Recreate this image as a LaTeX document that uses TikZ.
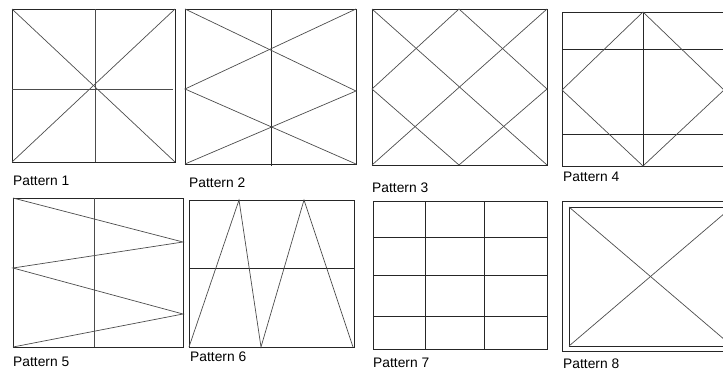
\documentclass[tikz,border=0pt]{standalone}
\usepackage{fontspec}
\setmainfont{Liberation Sans}
\tikzstyle{frame} = [draw=black!85, line width=0.9pt]
\tikzstyle{guide} = [draw=black!70, line width=0.7pt]
\tikzstyle{caption} = [anchor=west, inner sep=0pt,
font=\fontsize{13.8}{16}\selectfont]

\begin{document}
\begin{tikzpicture}[x=1pt, y=-1pt]
\useasboundingbox (0,0) rectangle (723,373);
\clip (0,0) rectangle (723,373);

% Pattern 1
\draw[frame] (12,9) rectangle (175,162);
\draw[guide] (95,9) -- (95,162);
\draw[guide] (12,89) -- (173,89);
\draw[guide] (12,9) -- (175,162);
\draw[guide] (175,9) -- (12,162);

% Pattern 2
\draw[frame] (185,9) rectangle (356,164);
\draw[frame] (271,9) -- (271,166);
\draw[guide] (185,9) -- (356,91) -- (185,164);
\draw[guide] (356,9) -- (185,89) -- (356,164);

% Pattern 3
\draw[frame] (372,9) rectangle (547,165);
\draw[guide] (372,9) -- (547,165);
\draw[guide] (547,9) -- (372,165);
\draw[guide] (459,9) -- (372,89) -- (459,165) -- (547,89) -- cycle;

% Pattern 4
\draw[frame] (562,12) rectangle (724,166);
\draw[frame] (643,12) -- (643,166);
\draw[frame] (562,49) -- (724,49);
\draw[frame] (562,134) -- (724,134);
\draw[guide] (643,12) -- (562,90) -- (643,166) -- (724,90) -- cycle;

% Pattern 5
\draw[frame] (13,198) rectangle (183,347);
\draw[guide] (94,198) -- (94,347);
\draw[guide] (13,198) -- (183,242) -- (13,268) -- (183,314) -- (13,347);

% Pattern 6
\draw[frame] (189,200) rectangle (354,347);
\draw[frame] (189,268) -- (354,268);
\draw[guide] (189,347) -- (239,200) -- (261,347) -- (304,200) -- (353,347);

% Pattern 7
\draw[frame] (373,201) rectangle (547,349);
\draw[frame] (425,201) -- (425,349);
\draw[frame] (484,201) -- (484,349);
\draw[frame] (373,237) -- (547,237);
\draw[frame] (373,275) -- (547,275);
\draw[frame] (373,316) -- (547,316);

% Pattern 8
\draw[frame] (562,201) rectangle (738,351);
\draw[frame] (569,207) rectangle (732,346);
\draw[guide] (569,207) -- (732,346);
\draw[guide] (732,207) -- (569,346);

% Captions
\node[caption] (cap1) at (13,181) {Pattern 1};
\node[caption] (cap2) at (189,183) {Pattern 2};
\node[caption] (cap3) at (372,188) {Pattern 3};
\node[caption] (cap4) at (563,177) {Pattern 4};
\node[caption] (cap5) at (13,362) {Pattern 5};
\node[caption] (cap6) at (190,357) {Pattern 6};
\node[caption] (cap7) at (373,363) {Pattern 7};
\node[caption] (cap8) at (563,364) {Pattern 8};

\end{tikzpicture}
\end{document}
